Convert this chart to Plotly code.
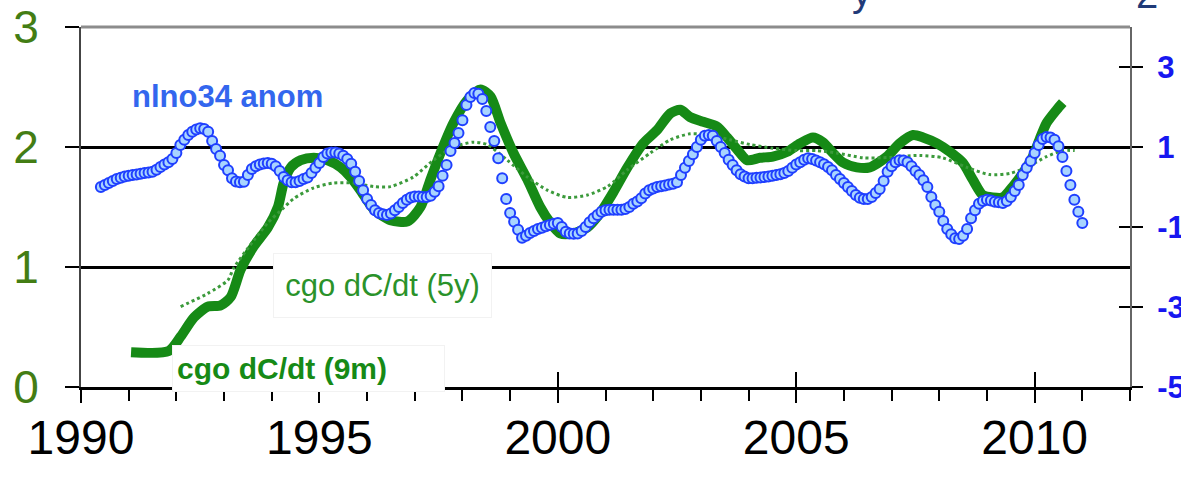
import pandas as pd
import plotly.graph_objects as go

# ---------------- data ----------------
# monthly Nino3.4 anomaly, Jun 1990 .. Jan 2011 (right axis)
nino_months = pd.period_range("1990-06", "2011-01", freq="M")
nino_anom = [
    0.00, 0.05, 0.10, 0.15, 0.20, 0.23, 0.26,                                   # 1990 Jun-Dec
    0.28, 0.30, 0.31, 0.33, 0.35, 0.36, 0.38, 0.43, 0.50, 0.56, 0.62, 0.70,     # 1991
    0.85, 1.05, 1.18, 1.30, 1.38, 1.44, 1.47, 1.45, 1.38, 1.15, 0.95, 0.78,     # 1992
    0.55, 0.42, 0.22, 0.14, 0.12, 0.13, 0.30, 0.45, 0.52, 0.56, 0.59, 0.60,     # 1993
    0.58, 0.52, 0.40, 0.25, 0.17, 0.12, 0.12, 0.15, 0.20, 0.24, 0.35, 0.48,     # 1994
    0.60, 0.75, 0.84, 0.86, 0.86, 0.84, 0.78, 0.70, 0.58, 0.38, 0.15, -0.08,    # 1995
    -0.30, -0.45, -0.58, -0.65, -0.68, -0.70, -0.66, -0.58, -0.50, -0.40, -0.32, -0.26,  # 1996
    -0.24, -0.24, -0.25, -0.25, -0.22, -0.12, 0.02, 0.28, 0.55, 0.90, 1.10, 1.35,  # 1997
    1.67, 2.05, 2.25, 2.35, 2.33, 2.20, 1.90, 1.50, 1.15, 0.72, 0.22, -0.30,    # 1998
    -0.65, -0.87, -1.07, -1.27, -1.22, -1.15, -1.10, -1.05, -1.02, -0.98, -0.95, -0.92,  # 1999
    -0.90, -1.00, -1.12, -1.16, -1.17, -1.16, -1.10, -1.00, -0.88, -0.78, -0.70, -0.62,  # 2000
    -0.58, -0.57, -0.57, -0.57, -0.57, -0.55, -0.50, -0.42, -0.36, -0.28, -0.16, -0.08,  # 2001
    -0.04, 0.00, 0.02, 0.04, 0.06, 0.08, 0.12, 0.30, 0.48, 0.65, 0.82, 1.00,   # 2002
    1.18, 1.28, 1.30, 1.28, 1.15, 1.00, 0.85, 0.68, 0.55, 0.42, 0.32, 0.26,     # 2003
    0.22, 0.22, 0.23, 0.24, 0.25, 0.26, 0.28, 0.30, 0.32, 0.35, 0.40, 0.48,     # 2004
    0.56, 0.62, 0.68, 0.72, 0.70, 0.66, 0.62, 0.57, 0.50, 0.42, 0.30, 0.20,     # 2005
    0.10, 0.00, -0.10, -0.20, -0.27, -0.30, -0.30, -0.25, -0.15, -0.05, 0.15, 0.38,  # 2006
    0.52, 0.62, 0.67, 0.66, 0.62, 0.52, 0.40, 0.30, 0.17, 0.00, -0.25, -0.45,   # 2007
    -0.62, -0.85, -1.05, -1.18, -1.28, -1.30, -1.22, -1.05, -0.78, -0.58, -0.42, -0.35,  # 2008
    -0.32, -0.34, -0.37, -0.38, -0.40, -0.35, -0.25, -0.10, 0.05, 0.30, 0.48, 0.65,  # 2009
    0.85, 1.05, 1.20, 1.25, 1.24, 1.18, 1.02, 0.75, 0.40, 0.05, -0.32, -0.62,   # 2010
    -0.90,                                                                      # 2011 Jan
]
nino_year = [p.year + (p.month - 1) / 12 for p in nino_months]

# cgo dC/dt (9m) - left axis
cgo9m_year = [1991.05, 1991.84, 1992.09, 1992.37, 1992.66, 1992.93, 1993.14, 1993.35, 1993.62,
              1993.92, 1994.13, 1994.25, 1994.40, 1994.61, 1994.88, 1995.17, 1995.45, 1995.65,
              1995.86, 1996.14, 1996.49, 1996.85, 1997.12, 1997.33, 1997.54, 1997.81, 1998.10,
              1998.38, 1998.59, 1998.80, 1999.07, 1999.36, 1999.63, 1999.84, 2000.05, 2000.32,
              2000.62, 2000.89, 2001.16, 2001.46, 2001.79, 2002.08, 2002.36, 2002.57, 2002.77,
              2003.05, 2003.34, 2003.55, 2003.76, 2003.97, 2004.24, 2004.51, 2004.81, 2005.08,
              2005.35, 2005.56, 2005.77, 2005.98, 2006.27, 2006.54, 2006.90, 2007.17, 2007.45,
              2007.66, 2007.95, 2008.22, 2008.49, 2008.70, 2008.91, 2009.12, 2009.33, 2009.54,
              2009.75, 2009.96, 2010.10, 2010.25, 2010.46, 2010.59]
cgo9m = [0.29, 0.30, 0.42, 0.58, 0.67, 0.68, 0.75, 0.98, 1.17,
         1.33, 1.50, 1.70, 1.83, 1.89, 1.91, 1.89, 1.83, 1.75,
         1.64, 1.48, 1.39, 1.38, 1.50, 1.73, 1.95, 2.20, 2.39,
         2.48, 2.42, 2.20, 1.95, 1.73, 1.50, 1.37, 1.28, 1.28,
         1.33, 1.45, 1.62, 1.83, 2.03, 2.14, 2.28, 2.31, 2.25,
         2.21, 2.17, 2.08, 1.98, 1.89, 1.91, 1.92, 1.96, 2.03,
         2.08, 2.04, 1.95, 1.87, 1.83, 1.83, 1.92, 2.03, 2.10,
         2.08, 2.03, 1.96, 1.87, 1.73, 1.60, 1.58, 1.58, 1.67,
         1.78, 1.92, 2.06, 2.20, 2.31, 2.37]

# cgo dC/dt (5y) - left axis
cgo5y_year = [1992.09, 1992.66, 1993.08, 1993.20, 1993.62, 1993.92, 1994.19, 1994.46, 1994.88,
              1995.30, 1995.72, 1996.14, 1996.49, 1996.97, 1997.39, 1997.81, 1998.23, 1998.52,
              1998.94, 1999.36, 1999.78, 2000.20, 2000.62, 2001.04, 2001.46, 2001.94, 2002.36,
              2002.77, 2003.19, 2003.61, 2004.03, 2004.51, 2005.02, 2005.43, 2005.85, 2006.40,
              2006.82, 2007.59, 2008.07, 2008.58, 2009.06, 2009.48, 2009.83, 2010.25, 2010.59,
              2010.84]
cgo5y = [0.67, 0.78, 0.89, 0.99, 1.22, 1.37, 1.47, 1.57, 1.66,
         1.70, 1.70, 1.67, 1.67, 1.75, 1.89, 2.00, 2.04, 2.02,
         1.89, 1.75, 1.64, 1.58, 1.60, 1.67, 1.81, 1.95, 2.06,
         2.11, 2.10, 2.06, 2.02, 1.99, 1.97, 1.97, 1.95, 1.91,
         1.91, 1.93, 1.91, 1.83, 1.77, 1.78, 1.83, 1.92, 1.97,
         1.97]

x_ticks = [1990, 1995, 2000, 2005, 2010]
left_ticks = [0, 1, 2, 3]
right_ticks = [-5, -3, -1, 1, 3]

# ---------------- styling ----------------
FONT = "Arial, Liberation Sans, sans-serif"
GREEN_DARK = "#168a16"
GREEN_DOT = "#3b9a3b"
LEFT_LBL = "#437d14"
BLUE_LBL = "#1717f0"


def px_x(p):  # page pixel -> paper x (plot area spans 81..1130)
    return (p - 81) / 1049


def px_y(p):  # page pixel -> paper y (plot area spans 27..387)
    return (387 - p) / 360


fig = go.Figure()
fig.add_trace(go.Scatter(x=cgo9m_year, y=cgo9m, mode="lines",
                         line=dict(color=GREEN_DARK, width=10, shape="spline", smoothing=0.7),
                         hoverinfo="skip", showlegend=False))
fig.add_trace(go.Scatter(x=cgo5y_year, y=cgo5y, mode="lines",
                         line=dict(color=GREEN_DOT, width=3, dash="dot", shape="spline", smoothing=0.7),
                         hoverinfo="skip", showlegend=False))
fig.add_trace(go.Scatter(x=nino_year, y=nino_anom, mode="markers", yaxis="y2",
                         marker=dict(size=10, color="#a8d4ff", line=dict(color="#1f3fff", width=2)),
                         hoverinfo="skip", showlegend=False))
# empty trace so the overlay axes (inner tick halves) get drawn
fig.add_trace(go.Scatter(x=[], y=[], xaxis="x2", yaxis="y3", showlegend=False, hoverinfo="skip"))

fig.update_layout(
    width=1181, height=481,
    margin=dict(l=81, r=51, t=27, b=94, pad=0),
    paper_bgcolor="white", plot_bgcolor="white",
    font=dict(family=FONT),
    xaxis=dict(range=[1990, 2012], tickvals=x_ticks, ticktext=[str(v) for v in x_ticks],
               ticks="outside", ticklen=13, tickwidth=2, tickcolor="black",
               minor=dict(dtick=1, tick0=1990, ticks="outside", ticklen=11, tickwidth=2, tickcolor="black"),
               showline=True, linecolor="black", linewidth=3, showgrid=False, zeroline=False,
               tickfont=dict(size=48, color="black", family=FONT), ticklabelstandoff=-7,
               automargin=False, fixedrange=True),
    xaxis2=dict(range=[1990, 2012], overlaying="x", anchor="y3", side="bottom",
                tickvals=x_ticks, ticks="inside", ticklen=15, tickwidth=2, tickcolor="black",
                showticklabels=False, showline=False, showgrid=False, zeroline=False,
                automargin=False),
    yaxis=dict(range=[0, 3], tickvals=left_ticks, ticks="outside", ticklen=14, tickwidth=2,
               tickcolor="black", showline=True, linecolor="#444", linewidth=2,
               showgrid=True, gridcolor="black", gridwidth=3, zeroline=False,
               tickfont=dict(size=46, color=LEFT_LBL, family=FONT), ticklabelstandoff=17,
               automargin=False),
    yaxis2=dict(range=[-5, 4], overlaying="y", side="right", anchor="x",
                tickvals=right_ticks, ticktext=[str(v) for v in right_ticks],
                ticks="outside", ticklen=11, tickwidth=2, tickcolor="black",
                showline=True, linecolor="#666", linewidth=2, showgrid=False, zeroline=False,
                tickfont=dict(size=31, color=BLUE_LBL, family=FONT, weight="bold"),
                ticklabelstandoff=8, automargin=False),
    yaxis3=dict(range=[-5, 4], overlaying="y", side="right", anchor="x2",
                tickvals=right_ticks, ticks="inside", ticklen=11, tickwidth=2, tickcolor="black",
                showticklabels=False, showline=False, showgrid=False, zeroline=False,
                automargin=False),
    shapes=[dict(type="line", xref="paper", yref="paper", x0=0, x1=1, y0=1, y1=1,
                 line=dict(color="#8c8c8c", width=3), layer="above")],
    annotations=[
        dict(text="<b>nlno34 anom</b>", xref="paper", yref="paper", x=px_x(227), y=px_y(97),
             xanchor="center", yanchor="middle",
             showarrow=False, font=dict(size=31, color="#3366ee", family=FONT)),
        dict(text="cgo dC/dt (5y)", xref="paper", yref="paper", x=px_x(382.5), y=px_y(285.5),
             xanchor="center", yanchor="middle",
             showarrow=False, font=dict(size=31, color="#2a922a", family=FONT),
             bgcolor="white", bordercolor="#f2f2f2", borderwidth=1, borderpad=0,
             width=217, height=63, align="center", valign="middle"),
        dict(text="<b>cgo dC/dt (9m)</b>", xref="paper", yref="paper", x=px_x(308.5), y=px_y(368.5),
             xanchor="center", yanchor="middle",
             showarrow=False, font=dict(size=30, color=GREEN_DARK, family=FONT),
             bgcolor="white", bordercolor="#f2f2f2", borderwidth=1, borderpad=4,
             width=263, height=37, align="left", valign="middle"),
        # cut-off fragments of a title above the chart
        dict(text="y", xref="paper", yref="paper", x=px_x(862), y=px_y(16),
             xanchor="center", yanchor="bottom", showarrow=False,
             font=dict(size=40, color="#1f3a78", family=FONT)),
        dict(text="2", xref="paper", yref="paper", x=px_x(1147), y=px_y(18),
             xanchor="center", yanchor="bottom", showarrow=False,
             font=dict(size=40, color="#1f3a78", family=FONT)),
    ],
)

fig.write_html("out.html")
